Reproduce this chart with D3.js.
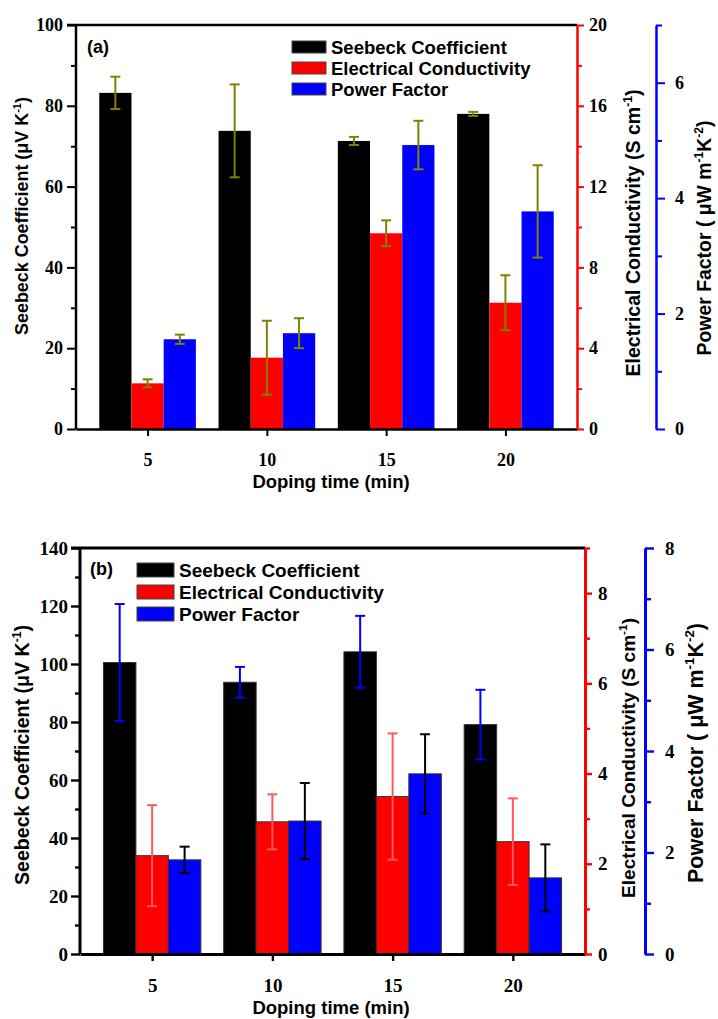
<!DOCTYPE html>
<html>
<head>
<meta charset="utf-8">
<script src="https://cdn.jsdelivr.net/npm/d3@7"></script>
<style>
  html, body { margin: 0; padding: 0; background: #fff; }
  svg { display: block; }
</style>
</head>
<body>
<svg id="chart" width="718" height="1019"></svg>
<script>
// ---------- DATA ----------
const categories = [5, 10, 15, 20];
const seriesNames = ["Seebeck Coefficient", "Electrical Conductivity", "Power Factor"];

// Panel (a)
const seebeckA = [83.2, 73.8, 71.3, 78.0];
const seebeckErrA = [4.0, 11.5, 1.0, 0.5];
const condA = [2.26, 3.53, 9.69, 6.25];
const condErrA = [0.2, 1.83, 0.64, 1.36];
const pfA = [1.555, 1.66, 4.92, 3.77];
const pfErrA = [0.08, 0.26, 0.42, 0.8];

// Panel (b)
const seebeckB = [100.5, 93.7, 104.2, 79.1];
const seebeckErrB = [20.2, 5.3, 12.4, 12.0];
const condB = [2.18, 2.93, 3.49, 2.49];
const condErrB = [1.12, 0.61, 1.4, 0.96];
const pfB = [1.855, 2.62, 3.55, 1.50];
const pfErrB = [0.26, 0.75, 0.78, 0.66];

// Tick labels
const leftTicksA = [0, 20, 40, 60, 80, 100];
const leftMinorA = [10, 30, 50, 70, 90];
const redTicksA = [0, 4, 8, 12, 16, 20];
const redMinorA = [2, 6, 10, 14, 18];
const blueTicksA = [0, 2, 4, 6];
const blueMinorA = [1, 3, 5, 7];

const leftTicksB = [0, 20, 40, 60, 80, 100, 120, 140];
const leftMinorB = [10, 30, 50, 70, 90, 110, 130];
const redTicksB = [0, 2, 4, 6, 8];
const redMinorB = [1, 3, 5, 7, 9];
const blueTicksB = [0, 2, 4, 6, 8];
const blueMinorB = [1, 3, 5, 7];

// ---------- DRAW ----------
const svg = d3.select("#chart");
const SANS = "Liberation Sans, Arial, sans-serif";
const SERIF = "Liberation Serif, Times New Roman, serif";
const fmt = d3.format("d");

function rotTitle(g, x, y, size, parts, len) {
  const t = g.append("text")
    .attr("transform", `translate(${x},${y}) rotate(-90)`)
    .attr("text-anchor", "middle")
    .attr("font-family", SANS).attr("font-weight", "bold")
    .attr("font-size", size).attr("fill", "#000");
  parts.forEach(p => {
    const ts = t.append("tspan").text(p[0]);
    if (p[1] === 1) ts.attr("font-size", size * 0.62).attr("dy", -size * 0.4);
    else if (p[1] === 2) ts.attr("dy", size * 0.4);
  });
  if (len) t.attr("textLength", len).attr("lengthAdjust", "spacingAndGlyphs");
}

function drawPanel(cfg, d) {
  const g = svg.append("g");
  const x = d3.scaleLinear().domain([2, 23]).range([cfg.left, cfg.right]);
  const yL = d3.scaleLinear().domain([0, cfg.leftMax]).range([cfg.bottom, cfg.top]);
  const yR = d3.scaleLinear().domain([0, cfg.redMax]).range([cfg.bottom, cfg.top]);
  const yB = d3.scaleLinear().domain([0, cfg.blueMax]).range([cfg.bottom, cfg.top]);
  const step = x(categories[1]) - x(categories[0]);
  const bw = step * 0.27;

  const series = [
    { vals: d.seebeck, errs: d.seebeckErr, y: yL, fill: "#000000", off: -1, ec: cfg.errColors[0] },
    { vals: d.cond, errs: d.condErr, y: yR, fill: "#ff0000", off: 0, ec: cfg.errColors[1] },
    { vals: d.pf, errs: d.pfErr, y: yB, fill: "#0000ff", off: 1, ec: cfg.errColors[2] }
  ];

  series.forEach(s => {
    g.append("g").selectAll("rect").data(categories).join("rect")
      .attr("x", (c) => x(c) + s.off * bw - bw / 2)
      .attr("y", (c, i) => s.y(s.vals[i]))
      .attr("width", bw)
      .attr("height", (c, i) => s.y(0) - s.y(s.vals[i]))
      .attr("fill", s.fill)
      .attr("stroke", cfg.barStroke).attr("stroke-width", cfg.barStrokeW);
  });

  series.forEach(s => {
    const eg = g.append("g").attr("stroke", s.ec).attr("stroke-width", 2).attr("fill", "none");
    categories.forEach((c, i) => {
      const cx = x(c) + s.off * bw;
      const y1 = s.y(s.vals[i] + s.errs[i]);
      const y2 = s.y(s.vals[i] - s.errs[i]);
      eg.append("line").attr("x1", cx).attr("x2", cx).attr("y1", y1).attr("y2", y2);
      eg.append("line").attr("x1", cx - 5).attr("x2", cx + 5).attr("y1", y1).attr("y2", y1);
      eg.append("line").attr("x1", cx - 5).attr("x2", cx + 5).attr("y1", y2).attr("y2", y2);
    });
  });

  const AW = cfg.axisW;
  // Left axis
  const la = g.append("g").attr("transform", `translate(${cfg.left},0)`)
    .call(d3.axisLeft(yL).tickValues(cfg.leftTicks).tickFormat(fmt).tickSize(9).tickSizeOuter(0).tickPadding(cfg.leftPad));
  g.append("g").attr("transform", `translate(${cfg.left},0)`)
    .call(d3.axisLeft(yL).tickValues(cfg.leftMinor).tickSize(5).tickSizeOuter(0).tickFormat(""))
    .select(".domain").remove();
  // Bottom axis
  g.append("g").attr("transform", `translate(0,${cfg.bottom})`)
    .call(d3.axisBottom(x).tickValues(categories).tickFormat(fmt).tickSize(7).tickSizeOuter(0).tickPadding(cfg.bottomPad));
  // Top frame
  g.append("line").attr("x1", cfg.left - 9).attr("x2", cfg.right).attr("y1", cfg.top).attr("y2", cfg.top)
    .attr("stroke", "#000").attr("stroke-width", AW);
  // Red axis
  const ra = g.append("g").attr("transform", `translate(${cfg.right},0)`)
    .call(d3.axisRight(yR).tickValues(cfg.redTicks).tickFormat(fmt).tickSize(7).tickSizeOuter(0).tickPadding(cfg.redPad));
  g.append("g").attr("transform", `translate(${cfg.right},0)`)
    .call(d3.axisRight(yR).tickValues(cfg.redMinor).tickSize(5).tickSizeOuter(0).tickFormat(""))
    .attr("class", "redminor").select(".domain").remove();
  // Blue axis
  const bla = g.append("g").attr("transform", `translate(${cfg.blueX},0)`)
    .call(d3.axisRight(yB).tickValues(cfg.blueTicks).tickFormat(fmt).tickSize(9).tickSizeOuter(0).tickPadding(cfg.bluePad));
  g.append("g").attr("transform", `translate(${cfg.blueX},0)`)
    .call(d3.axisRight(yB).tickValues(cfg.blueMinor).tickSize(6).tickSizeOuter(0).tickFormat(""))
    .attr("class", "blueminor").select(".domain").remove();

  g.selectAll(".domain").attr("stroke-width", AW);
  g.selectAll(".tick line").attr("stroke-width", AW * 0.8);
  g.selectAll(".tick text").attr("font-family", SERIF).attr("font-weight", "bold")
    .attr("font-size", cfg.tickFont).attr("fill", "#000");
  ra.selectAll(".domain, .tick line").attr("stroke", "#ff0000");
  g.selectAll(".redminor .tick line").attr("stroke", "#ff0000");
  bla.selectAll(".domain, .tick line").attr("stroke", "#0000ff");
  g.selectAll(".blueminor .tick line").attr("stroke", "#0000ff");
  la.select(".domain").attr("d", `M0,${cfg.bottom}V${cfg.top}`);

  // Legend
  const colors = ["#000000", "#ff0000", "#0000ff"];
  seriesNames.forEach((nm, i) => {
    const cy = cfg.legY + i * cfg.legStep;
    g.append("rect").attr("x", cfg.legX).attr("y", cy - cfg.legH / 2)
      .attr("width", cfg.legW).attr("height", cfg.legH)
      .attr("fill", colors[i]).attr("stroke", "#444").attr("stroke-width", 1);
    g.append("text").attr("x", cfg.legX + cfg.legW + 5).attr("y", cy + cfg.legFont * 0.36)
      .attr("font-family", SANS).attr("font-weight", "bold").attr("font-size", cfg.legFont)
      .text(nm);
  });
  g.append("text").attr("x", cfg.labelX).attr("y", cfg.labelY)
    .attr("font-family", SANS).attr("font-weight", "bold").attr("font-size", 18)
    .text(cfg.label);

  // Titles
  g.append("text").attr("x", 331).attr("y", cfg.xTitleY).attr("text-anchor", "middle")
    .attr("font-family", SANS).attr("font-weight", "bold").attr("font-size", 18.5)
    .text("Doping time (min)");
  rotTitle(g, cfg.lt[0], cfg.lt[1], cfg.lt[2], [["Seebeck Coefficient (μV K", 0], ["-1", 1], [")", 2]], cfg.lt[3]);
  rotTitle(g, cfg.rt[0], cfg.rt[1], cfg.rt[2], [["Electrical Conductivity (S cm", 0], ["-1", 1], [")", 2]], cfg.rt[3]);
  rotTitle(g, cfg.bt[0], cfg.bt[1], cfg.bt[2], [["Power Factor ( μW m", 0], ["-1", 1], ["K", 2], ["-2", 1], [")", 2]], cfg.bt[3]);
}

drawPanel({
  left: 76, right: 577, top: 25, bottom: 429, blueX: 656,
  leftMax: 100, redMax: 20, blueMax: 7,
  leftTicks: leftTicksA, leftMinor: leftMinorA, redTicks: redTicksA, redMinor: redMinorA,
  blueTicks: blueTicksA, blueMinor: blueMinorA,
  leftPad: 4, bottomPad: 17, redPad: 5, bluePad: 10, tickFont: 18,
  errColors: ["#808000", "#808000", "#808000"], barStroke: "none", barStrokeW: 0, axisW: 2.5,
  legX: 292, legY: 47, legStep: 21, legW: 34, legH: 12, legFont: 18.5,
  label: "(a)", labelX: 87, labelY: 53, xTitleY: 488,
  lt: [28, 216, 18, 238], rt: [640, 233, 19.5, 287], bt: [711, 238, 19.5, 235]
}, { seebeck: seebeckA, seebeckErr: seebeckErrA, cond: condA, condErr: condErrA, pf: pfA, pfErr: pfErrA });

drawPanel({
  left: 80, right: 585, top: 548, bottom: 954, blueX: 645,
  leftMax: 140, redMax: 9, blueMax: 8,
  leftTicks: leftTicksB, leftMinor: leftMinorB, redTicks: redTicksB, redMinor: redMinorB,
  blueTicks: blueTicksB, blueMinor: blueMinorB,
  leftPad: 3, bottomPad: 18, redPad: 6, bluePad: 11, tickFont: 19,
  errColors: ["#0000ff", "#ff5a5a", "#000000"], barStroke: "#333", barStrokeW: 1, axisW: 3,
  legX: 137, legY: 570, legStep: 22, legW: 37, legH: 14, legFont: 19,
  label: "(b)", labelX: 90, labelY: 575, xTitleY: 1014,
  lt: [29, 755, 19.5, 260], rt: [635, 758, 19, 280], bt: [703, 753, 21.5, 260]
}, { seebeck: seebeckB, seebeckErr: seebeckErrB, cond: condB, condErr: condErrB, pf: pfB, pfErr: pfErrB });
</script>
</body>
</html>
